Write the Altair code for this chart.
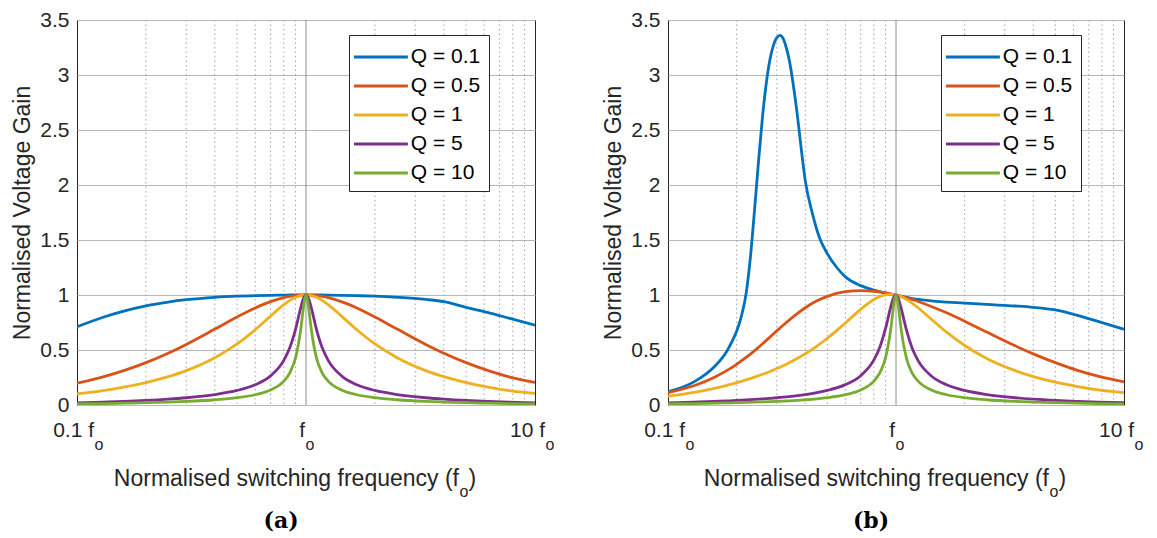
import altair as alt
import pandas as pd

# ---------------- data ----------------
SERIES = ["Q = 0.1", "Q = 0.5", "Q = 1", "Q = 5", "Q = 10"]
COLORS = ["#0072BD", "#D95319", "#EDB120", "#7E2F8E", "#77AC30"]

# panel (a): shared frequency grid for all five curves
FREQ_A = [0.1, 0.13, 0.16, 0.2, 0.25, 0.3, 0.4, 0.5, 0.6, 0.7, 0.8, 0.85, 0.9, 0.95, 0.97, 0.98, 1.0,
          1.02, 1.031, 1.053, 1.111, 1.176, 1.25, 1.429, 1.667, 2.0, 2.5, 3.333, 4.0, 5.0, 6.25, 7.692, 10.0]
A_Q01 = [0.711, 0.798, 0.854, 0.902, 0.936, 0.957, 0.979, 0.989, 0.994, 0.997, 0.999, 1.0, 1.0, 1.0, 1.0, 1.0, 1.0,
         1.0, 1.0, 1.0, 1.0, 1.0, 0.999, 0.997, 0.994, 0.989, 0.979, 0.96, 0.94, 0.888, 0.84, 0.79, 0.726]
A_Q05 = [0.198, 0.256, 0.312, 0.385, 0.471, 0.551, 0.69, 0.8, 0.882, 0.94, 0.976, 0.987, 0.995, 0.999, 0.9995, 1.0, 1.0,
         1.0, 0.9995, 0.999, 0.995, 0.987, 0.976, 0.94, 0.882, 0.8, 0.69, 0.551, 0.471, 0.385, 0.312, 0.256, 0.205]
A_Q1 = [0.1005, 0.131, 0.162, 0.204, 0.258, 0.313, 0.43, 0.555, 0.684, 0.808, 0.912, 0.951, 0.979, 0.995, 0.998, 0.999, 1.0,
        0.999, 0.998, 0.995, 0.979, 0.951, 0.912, 0.808, 0.684, 0.555, 0.43, 0.313, 0.258, 0.204, 0.162, 0.131, 0.105]
A_Q5 = [0.0202, 0.0264, 0.0328, 0.0416, 0.0533, 0.0658, 0.0948, 0.132, 0.184, 0.265, 0.406, 0.522, 0.688, 0.89, 0.957, 0.98, 1.0,
        0.98, 0.957, 0.89, 0.688, 0.522, 0.406, 0.265, 0.184, 0.132, 0.0948, 0.0658, 0.0533, 0.0416, 0.0328, 0.0264, 0.0202]
A_Q10 = [0.0101, 0.0132, 0.0164, 0.0208, 0.0267, 0.033, 0.0476, 0.0665, 0.0933, 0.136, 0.217, 0.293, 0.428, 0.698, 0.854, 0.927, 1.0,
         0.927, 0.854, 0.698, 0.428, 0.293, 0.217, 0.136, 0.0933, 0.0665, 0.0476, 0.033, 0.0267, 0.0208, 0.0164, 0.0132, 0.0101]

# panel (b): the Q = 0.1 curve has its own, denser frequency list around the peak
FREQ_B_Q01 = [0.1, 0.13, 0.16, 0.18, 0.19, 0.2, 0.21, 0.22, 0.23, 0.24, 0.25, 0.26, 0.27, 0.28, 0.29, 0.3, 0.31,
              0.32, 0.33, 0.34, 0.355, 0.37, 0.385, 0.4, 0.43, 0.46, 0.5, 0.55, 0.6, 0.7, 0.8, 0.9, 1.0,
              1.02, 1.053, 1.111, 1.176, 1.25, 1.429, 1.667, 2.0, 2.5, 3.333, 4.0, 5.0, 6.25, 7.692, 10.0]
B_Q01 = [0.12, 0.21, 0.35, 0.48, 0.57, 0.67, 0.81, 1.01, 1.35, 1.79, 2.24, 2.63, 2.93, 3.14, 3.27, 3.34, 3.36,
         3.33, 3.25, 3.14, 2.9, 2.62, 2.31, 2.04, 1.74, 1.53, 1.375, 1.25, 1.165, 1.085, 1.045, 1.017, 1.0,
         0.996, 0.989, 0.978, 0.968, 0.96, 0.946, 0.936, 0.926, 0.914, 0.9, 0.888, 0.864, 0.815, 0.76, 0.689]

FREQ_B = [0.1, 0.13, 0.16, 0.18, 0.2, 0.22, 0.24, 0.26, 0.28, 0.3, 0.31, 0.32, 0.34, 0.37, 0.4, 0.45, 0.5,
          0.6, 0.7, 0.8, 0.85, 0.9, 0.95, 0.97, 0.98, 1.0,
          1.02, 1.031, 1.053, 1.111, 1.176, 1.25, 1.429, 1.667, 2.0, 2.5, 3.333, 4.0, 5.0, 6.25, 7.692, 10.0]
B_Q05 = [0.112, 0.175, 0.252, 0.31, 0.37, 0.432, 0.495, 0.557, 0.617, 0.674, 0.70, 0.725, 0.772, 0.833, 0.884, 0.947, 0.988,
         1.03, 1.04, 1.034, 1.028, 1.02, 1.01, 1.006, 1.004, 1.0,
         0.996, 0.993, 0.988, 0.975, 0.959, 0.941, 0.896, 0.838, 0.762, 0.663, 0.538, 0.465, 0.385, 0.315, 0.262, 0.21]
B_Q1 = [0.08, 0.115, 0.152, 0.177, 0.203, 0.228, 0.253, 0.279, 0.305, 0.331, 0.344, 0.357, 0.384, 0.425, 0.466, 0.536, 0.607,
        0.746, 0.87, 0.959, 0.987, 1.002, 1.006, 1.005, 1.004, 1.0,
        0.995, 0.992, 0.985, 0.96, 0.926, 0.884, 0.78, 0.662, 0.541, 0.423, 0.312, 0.258, 0.207, 0.168, 0.138, 0.112]
B_Q5 = [0.0198, 0.0262, 0.0327, 0.0371, 0.0416, 0.0462, 0.0509, 0.0557, 0.0608, 0.0659, 0.0686, 0.0713, 0.0769, 0.0857, 0.0952, 0.1126, 0.1328,
        0.1854, 0.2667, 0.4101, 0.5281, 0.6959, 0.8979, 0.9625, 0.9843, 1.0,
        0.977, 0.951, 0.881, 0.682, 0.519, 0.404, 0.264, 0.184, 0.132, 0.0947, 0.0658, 0.0532, 0.0416, 0.0328, 0.0264, 0.0202]
B_Q10 = [0.0101, 0.0132, 0.0164, 0.0186, 0.0208, 0.0231, 0.0255, 0.0279, 0.0304, 0.033, 0.0343, 0.0357, 0.0384, 0.0429, 0.0476, 0.0564, 0.0666,
         0.0935, 0.1362, 0.2175, 0.2939, 0.4301, 0.7019, 0.8582, 0.9307, 1.0,
         0.9264, 0.8498, 0.692, 0.4268, 0.2928, 0.2165, 0.1357, 0.0933, 0.0665, 0.0476, 0.033, 0.0267, 0.0208, 0.0164, 0.0132, 0.0101]

TICK_VALUES = [0.1, 1.0, 10.0]
TICK_TEXT = ["0.1 f", "f", "10 f"]
SUB_TEXT = "o"
MINOR_GRID = [0.2, 0.3, 0.4, 0.5, 0.6, 0.7, 0.8, 0.9, 2, 3, 4, 5, 6, 7, 8, 9]
MAJOR_GRID = [1.0]
Y_TICKS = [0, 0.5, 1, 1.5, 2, 2.5, 3, 3.5]
Y_TITLE = "Normalised Voltage Gain"
X_TITLE = "Normalised switching frequency (f"
X_TITLE_END = ")"
CAPTIONS = ["(a)", "(b)"]

# ---------------- styling ----------------
FONT = "Liberation Sans"
TXT = "#262626"
H = 385
TICK_DX = [17, -1, 10]

Y_AXIS = alt.Axis(
    values=Y_TICKS, format="~g", title=Y_TITLE, grid=True, gridColor="#b8b8b8",
    gridWidth=1, domain=False, ticks=False, labelPadding=8,
    minExtent=37, maxExtent=37, titlePadding=6,
    labelFont=FONT, labelFontSize=21, labelColor=TXT,
    titleFont=FONT, titleFontSize=23, titleColor=TXT, titleFontWeight="normal",
)


def long_frame(freqs, gains):
    rows = []
    for k, (name, fr, g) in enumerate(zip(SERIES, freqs, gains)):
        for f, v in zip(fr, g):
            rows.append({"f": f, "gain": v, "series": name, "k": k})
    return pd.DataFrame(rows)


def text_layer(xs, ys, xval, txt, dx, dy, align, size, font=FONT, weight="normal"):
    df = pd.DataFrame({"f": [xval], "gain": [0.0], "t": [txt]})
    return alt.Chart(df).mark_text(
        align=align, baseline="alphabetic", dx=dx, dy=dy, fontSize=size,
        font=font, fontWeight=weight, color=TXT if font == FONT else "#000000"
    ).encode(
        x=alt.X("f:Q", scale=xs, axis=None),
        y=alt.Y("gain:Q", scale=ys, axis=Y_AXIS),
        text="t:N",
    )


def panel(freqs, gains, caption, width, legend_x):
    xs = alt.Scale(type="log", domain=[0.1, 10], nice=False)
    ys = alt.Scale(domain=[0, 3.5], nice=False, zero=False)

    minor = alt.Chart(pd.DataFrame({"f": MINOR_GRID})).mark_rule(
        color="#a6a6a6", strokeWidth=1, strokeDash=[1.5, 3]
    ).encode(x=alt.X("f:Q", scale=xs, axis=None))
    major = alt.Chart(pd.DataFrame({"f": MAJOR_GRID})).mark_rule(
        color="#8c8c8c", strokeWidth=1
    ).encode(x=alt.X("f:Q", scale=xs, axis=None))

    lines = alt.Chart(long_frame(freqs, gains)).mark_line(
        strokeWidth=2.8, interpolate="monotone", clip=True
    ).encode(
        x=alt.X("f:Q", scale=xs, axis=None),
        y=alt.Y("gain:Q", scale=ys, axis=Y_AXIS),
        color=alt.Color("series:N", sort=SERIES,
                        scale=alt.Scale(domain=SERIES, range=COLORS),
                        legend=alt.Legend(
                            orient="none", legendX=legend_x, legendY=15, title=None,
                            symbolType="M-2.2,0H2.2", symbolSize=600, symbolStrokeWidth=3,
                            symbolOffset=9.94, labelOffset=15.9, labelFont=FONT,
                            labelFontSize=21, labelColor="#000000", padding=8, rowPadding=5,
                            strokeColor="#262626", fillColor="#ffffff", labelLimit=300,
                        )),
        order=alt.Order("k:Q"),
    )

    texts = []
    for v, t, dx in zip(TICK_VALUES, TICK_TEXT, TICK_DX):
        texts.append(text_layer(xs, ys, v, t, dx, 31.5, "right", 21))
        texts.append(text_layer(xs, ys, v, SUB_TEXT, dx + 0.5, 44.5, "left", 16))
    texts.append(text_layer(xs, ys, 1.0, X_TITLE, 153, 80.5, "right", 23))
    texts.append(text_layer(xs, ys, 1.0, SUB_TEXT, 153.5, 91.5, "left", 16))
    texts.append(text_layer(xs, ys, 1.0, X_TITLE_END, 162.5, 80.5, "left", 23))
    texts.append(text_layer(xs, ys, 1.0, caption, -25, 122.5, "center", 22,
                            font="DejaVu Serif", weight="bold"))

    return alt.layer(minor, major, lines, *texts).properties(width=width, height=H)


pa = panel([FREQ_A] * 5, [A_Q01, A_Q05, A_Q1, A_Q5, A_Q10], CAPTIONS[0], 458, 272)
pb = panel([FREQ_B_Q01, FREQ_B, FREQ_B, FREQ_B, FREQ_B],
           [B_Q01, B_Q05, B_Q1, B_Q5, B_Q10], CAPTIONS[1], 456, 273)

chart = alt.hconcat(pa, pb, spacing=133, bounds="flush").resolve_scale(
    color="independent"
).resolve_legend(color="independent").properties(
    padding={"left": 2, "top": 0, "right": 0, "bottom": 0},
    background="white",
).configure_view(stroke="#262626", strokeWidth=1)

chart.save("out.html", embed_options={"renderer": "svg", "actions": False})
